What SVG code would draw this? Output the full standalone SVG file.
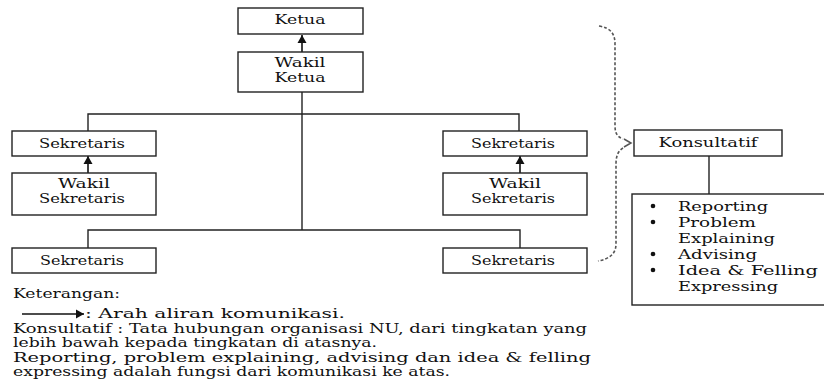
<svg xmlns="http://www.w3.org/2000/svg" width="824" height="381" viewBox="0 0 824 381">
<style>
.box{fill:#fff;stroke:#222;stroke-width:1.4}
.t{font-family:"DejaVu Serif","Liberation Serif",serif;font-size:13px;fill:#111}
.c{text-anchor:middle}
.ln{fill:none;stroke:#222;stroke-width:1.4}
.arr{fill:none;stroke:#111;stroke-width:1.6;marker-end:url(#ah)}
.dash{fill:none;stroke:#555;stroke-width:1.6;stroke-dasharray:3 2}
</style>
<defs>
<marker id="ah" markerWidth="10" markerHeight="10" refX="8" refY="5" orient="auto" markerUnits="userSpaceOnUse">
<path d="M0,0.5 L8,5 L0,9.5 Z" fill="#111"/>
</marker>
</defs>
<rect width="824" height="381" fill="#fff"/>

<g id="connectors">
<path class="ln" d="M302,92 V230"/>
<path class="ln" d="M88,131 V114 H519 V131"/>
<path class="ln" d="M88,248 V230 H520 V248"/>
<path class="ln" d="M709,156 V194"/>
<path class="arr" d="M302,52 V35"/>
<path class="arr" d="M88,173 V156"/>
<path class="arr" d="M520,173 V156"/>
</g>

<g id="brace">
<path class="dash" d="M599,26 C611,28 615,34 615,44 L615,126 C615,134 618,137 623,139"/>
<path fill="none" stroke="#555" stroke-width="1.5" d="M624,139 L631,143 L624,147"/>
<path class="dash" d="M623,148 C618,151 616,156 616,164 L616,244 C616,254 609,259 598,261"/>
</g>

<g id="ketua">
<rect class="box" x="238" y="8" width="125" height="26"/>
<text class="t c" x="300" y="24" textLength="51" lengthAdjust="spacingAndGlyphs">Ketua</text>
</g>
<g id="wakil-ketua">
<rect class="box" x="238" y="52" width="125" height="40"/>
<text class="t c" x="300" y="67" textLength="51" lengthAdjust="spacingAndGlyphs">Wakil</text>
<text class="t c" x="300" y="82" textLength="51" lengthAdjust="spacingAndGlyphs">Ketua</text>
</g>

<g id="sekretaris-kiri">
<rect class="box" x="12" y="131" width="144" height="25"/>
<text class="t c" x="82" y="148" textLength="86" lengthAdjust="spacingAndGlyphs">Sekretaris</text>
</g>
<g id="wakil-sekretaris-kiri">
<rect class="box" x="12" y="173" width="144" height="42"/>
<text class="t c" x="84" y="188" textLength="52" lengthAdjust="spacingAndGlyphs">Wakil</text>
<text class="t c" x="82" y="203" textLength="86" lengthAdjust="spacingAndGlyphs">Sekretaris</text>
</g>
<g id="sekretaris-kiri-bawah">
<rect class="box" x="12" y="248" width="144" height="25"/>
<text class="t c" x="82" y="265" textLength="84" lengthAdjust="spacingAndGlyphs">Sekretaris</text>
</g>

<g id="sekretaris-kanan">
<rect class="box" x="443" y="131" width="144" height="25"/>
<text class="t c" x="513" y="148" textLength="84" lengthAdjust="spacingAndGlyphs">Sekretaris</text>
</g>
<g id="wakil-sekretaris-kanan">
<rect class="box" x="443" y="173" width="144" height="42"/>
<text class="t c" x="515" y="188" textLength="52" lengthAdjust="spacingAndGlyphs">Wakil</text>
<text class="t c" x="513" y="203" textLength="84" lengthAdjust="spacingAndGlyphs">Sekretaris</text>
</g>
<g id="sekretaris-kanan-bawah">
<rect class="box" x="443" y="248" width="144" height="25"/>
<text class="t c" x="513" y="265" textLength="84" lengthAdjust="spacingAndGlyphs">Sekretaris</text>
</g>

<g id="konsultatif">
<rect class="box" x="634" y="130" width="148" height="26"/>
<text class="t c" x="708" y="147" textLength="99" lengthAdjust="spacingAndGlyphs">Konsultatif</text>
</g>

<g id="fungsi">
<rect class="box" x="632" y="194" width="200" height="111"/>
<circle cx="653" cy="206" r="2.3" fill="#111"/>
<circle cx="653" cy="222" r="2.3" fill="#111"/>
<circle cx="653" cy="254" r="2.3" fill="#111"/>
<circle cx="653" cy="270" r="2.3" fill="#111"/>
<text class="t" x="678" y="211" textLength="90" lengthAdjust="spacingAndGlyphs">Reporting</text>
<text class="t" x="678" y="227" textLength="78" lengthAdjust="spacingAndGlyphs">Problem</text>
<text class="t" x="678" y="243" textLength="97" lengthAdjust="spacingAndGlyphs">Explaining</text>
<text class="t" x="678" y="259" textLength="79" lengthAdjust="spacingAndGlyphs">Advising</text>
<text class="t" x="678" y="275" textLength="140" lengthAdjust="spacingAndGlyphs">Idea &amp; Felling</text>
<text class="t" x="678" y="291" textLength="100" lengthAdjust="spacingAndGlyphs">Expressing</text>
</g>

<g id="keterangan">
<text class="t" x="13" y="298" textLength="107" lengthAdjust="spacingAndGlyphs">Keterangan:</text>
<path class="arr" d="M22,314 H84"/>
<text class="t" x="85" y="318" textLength="260" lengthAdjust="spacingAndGlyphs">: Arah aliran komunikasi.</text>
<text class="t" x="13" y="333" textLength="574" lengthAdjust="spacingAndGlyphs">Konsultatif : Tata hubungan organisasi NU, dari tingkatan yang</text>
<text class="t" x="13" y="347" textLength="364" lengthAdjust="spacingAndGlyphs">lebih bawah kepada tingkatan di atasnya.</text>
<text class="t" x="13" y="362" textLength="578" lengthAdjust="spacingAndGlyphs">Reporting, problem explaining, advising dan idea &amp; felling</text>
<text class="t" x="13" y="376" textLength="437" lengthAdjust="spacingAndGlyphs">expressing adalah fungsi dari komunikasi ke atas.</text>
</g>
</svg>
